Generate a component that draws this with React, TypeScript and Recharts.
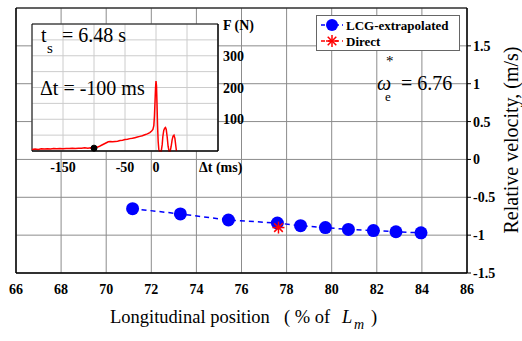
import {
  ComposedChart,
  LineChart,
  Line,
  Scatter,
  XAxis,
  YAxis,
  CartesianGrid,
  ReferenceArea,
  ReferenceDot,
} from "recharts";

// main plot: relative velocity vs longitudinal position
const positions = [71.17, 73.29, 75.42, 77.59, 78.62, 79.72, 80.74, 81.85, 82.85, 83.96];
const lcgVelocity = [-0.65, -0.72, -0.8, -0.84, -0.875, -0.9, -0.925, -0.94, -0.955, -0.97];
const directPosition = [77.64];
const directVelocity = [-0.9];
const xTicks = [66, 68, 70, 72, 74, 76, 78, 80, 82, 84, 86];
const yTicks = [-1.5, -1, -0.5, 0, 0.5, 1, 1.5];

// inset: force history around the slam
const forceTime = [
  -200, -195, -190, -185, -180, -175, -170, -165, -160, -155, -150, -145, -140, -135, -130, -125,
  -120, -115, -110, -105, -100, -96, -92, -88, -84, -80, -77, -74, -70, -66, -62, -58, -54, -50,
  -46, -42, -38, -34, -30, -26, -22, -18, -14, -10, -7, -5, -3.5, -2.5, -1.5, -0.7, 0, 0.8, 1.6,
  2.5, 3.5, 4.5, 5.5, 7, 8.5, 10, 11, 12.5, 14, 15.3, 16.5, 18, 19.5, 21, 23, 24.5, 26, 27.5, 29,
  30.5, 32, 33,
];
const forceValue = [
  5, 6, 5, 7, 6, 7, 6, 8, 7, 8, 7, 8, 8, 9, 8, 9, 9, 10, 9, 10, 9, 11, 14, 18, 22, 26, 29, 30, 29,
  30, 31, 33, 34, 36, 37, 39, 40, 42, 44, 46, 48, 51, 54, 58, 63, 68, 80, 110, 160, 200, 220, 205,
  150, 80, 30, 5, 0, 0, 0, 20, 45, 65, 72, 74, 68, 45, 15, 0, 0, 15, 35, 47, 50, 40, 15, 0,
];
const insetXTicks = [-200, -150, -100, -50, 0, 50, 100];
const insetXLabels = [-150, -50, 0];
const insetYTicks = [0, 50, 100, 150, 200, 250, 300, 350, 400];
const insetYLabels = [100, 200, 300];

const lcgData = positions.map((x, i) => ({ x, y: lcgVelocity[i] }));
const directData = directPosition.map((x, i) => ({ x, y: directVelocity[i] }));
const forceData = forceTime.map((t, i) => ({ t, f: forceValue[i] }));

const serif = "Liberation Serif, Times New Roman, DejaVu Serif, serif";
const serifStyle = { fontFamily: serif };

// bottom tick labels sit on a fixed baseline
const BottomTick = (props: any) => {
  const { x, payload, show, baseline } = props;
  if (show && !show.includes(payload.value)) return null;
  return (
    <text x={x} y={baseline} textAnchor="middle" fontSize={14} fontWeight={700} fill="#000" style={serifStyle}>
      {payload.value}
    </text>
  );
};

const RightTick = (props: any) => {
  const { x, y, payload, show } = props;
  if (show && !show.includes(payload.value)) return null;
  return (
    <text x={x} y={y + 5} textAnchor="start" fontSize={14} fontWeight={700} fill="#000" style={serifStyle}>
      {payload.value}
    </text>
  );
};

const Asterisk = (props: any) => {
  const { cx, cy } = props;
  const r = 6;
  const d = r * 0.72;
  return (
    <g stroke="#ff0000" strokeWidth={1.5}>
      <line x1={cx - r} y1={cy} x2={cx + r} y2={cy} />
      <line x1={cx} y1={cy - r} x2={cx} y2={cy + r} />
      <line x1={cx - d} y1={cy - d} x2={cx + d} y2={cy + d} />
      <line x1={cx - d} y1={cy + d} x2={cx + d} y2={cy - d} />
    </g>
  );
};

export default function App() {
  return (
    <div style={{ position: "relative", width: 522, height: 341, background: "#fff" }}>
      <style>{"body{margin:0}"}</style>
      <div style={{ position: "absolute", left: 0, top: 0 }}>
        <ComposedChart width={522} height={341} margin={{ top: 8, right: 15, bottom: 38, left: 16 }}>
          <CartesianGrid stroke="#8c8c8c" xAxisId="x" yAxisId="v" />
          <XAxis
            xAxisId="x"
            type="number"
            dataKey="x"
            domain={[66, 86]}
            ticks={xTicks}
            interval={0}
            height={30}
            tickSize={0}
            tick={<BottomTick baseline={294} />}
            axisLine={{ stroke: "#000" }}
          />
          <XAxis
            xAxisId="m"
            type="number"
            dataKey="x"
            domain={[66, 86]}
            ticks={xTicks}
            interval={0}
            mirror
            tickSize={4}
            tickFormatter={() => ""}
            axisLine={false}
            tickLine={{ stroke: "#000" }}
          />
          <YAxis
            yAxisId="v"
            orientation="right"
            type="number"
            domain={[-1.5, 2]}
            ticks={yTicks}
            interval={0}
            width={40}
            tickSize={4}
            tickMargin={2}
            tick={<RightTick />}
            axisLine={{ stroke: "#000" }}
            tickLine={{ stroke: "#000" }}
          />
          <YAxis
            yAxisId="l"
            orientation="left"
            type="number"
            domain={[-1.5, 2]}
            ticks={yTicks}
            interval={0}
            mirror
            tickSize={4}
            tickFormatter={() => ""}
            axisLine={{ stroke: "#000" }}
            tickLine={{ stroke: "#000" }}
          />
          <ReferenceArea xAxisId="x" yAxisId="v" x1={66} x2={86} y1={-1.5} y2={2} fill="none" stroke="#000" />
          <Line
            xAxisId="x"
            yAxisId="v"
            data={lcgData}
            dataKey="y"
            stroke="#0000ff"
            strokeWidth={1.5}
            strokeDasharray="5 4"
            dot={{ r: 6.5, fill: "#0000ff", stroke: "#0000ff", strokeWidth: 0 }}
            isAnimationActive={false}
          />
          <Scatter
            xAxisId="x"
            yAxisId="v"
            data={directData}
            dataKey="y"
            shape={Asterisk}
            isAnimationActive={false}
          />
        </ComposedChart>
      </div>

      <div style={{ position: "absolute", left: 0, top: 0 }}>
        <LineChart width={260} height={180} data={forceData} margin={{ top: 24, right: 7, bottom: 4, left: 32 }}>
          <CartesianGrid stroke="#cccccc" fill="#fff" fillOpacity={1} />
          <XAxis
            type="number"
            dataKey="t"
            domain={[-200, 100]}
            ticks={insetXTicks}
            interval={0}
            height={25}
            tickSize={0}
            tick={<BottomTick show={insetXLabels} baseline={172} />}
            axisLine={{ stroke: "#000" }}
          />
          <YAxis
            orientation="right"
            type="number"
            domain={[0, 400]}
            ticks={insetYTicks}
            interval={0}
            width={35}
            tickSize={0}
            tickMargin={5}
            tick={<RightTick show={insetYLabels} />}
            axisLine={{ stroke: "#000" }}
          />
          <YAxis
            yAxisId="m"
            orientation="right"
            type="number"
            domain={[0, 400]}
            ticks={insetYTicks}
            interval={0}
            mirror
            tickSize={4}
            tickFormatter={() => ""}
            axisLine={false}
            tickLine={{ stroke: "#000" }}
          />
          <ReferenceArea x1={-200} x2={100} y1={0} y2={400} fill="none" stroke="#000" />
          <Line
            type="linear"
            dataKey="f"
            stroke="#ff0000"
            strokeWidth={1.5}
            dot={false}
            isAnimationActive={false}
          />
          <ReferenceDot x={-100} y={9} r={3} fill="#000" stroke="#000" />
        </LineChart>
      </div>

      <svg
        width={522}
        height={341}
        style={{ position: "absolute", left: 0, top: 0, pointerEvents: "none", fontFamily: serif }}
      >
        {/* inset annotations */}
        <text fontSize={20}>
          <tspan x={41} y={42}>t</tspan>
          <tspan x={47} y={53} fontSize={15}>s</tspan>
          <tspan x={62} y={42}>= 6.48 s</tspan>
        </text>
        <text x={40} y={95} fontSize={20}>Δt = -100 ms</text>
        <text x={223} y={30} fontSize={14} fontWeight={700}>F (N)</text>
        <text x={199} y={172} fontSize={14} fontWeight={700}>Δt (ms)</text>

        {/* main annotations */}
        <text fontSize={20}>
          <tspan x={377} y={90} fontStyle="italic">ω</tspan>
          <tspan x={386} y={66} fontSize={15}>*</tspan>
          <tspan x={385} y={101} fontSize={13}>e</tspan>
          <tspan x={401} y={90}>= 6.76</tspan>
        </text>

        <text fontSize={18.5}>
          <tspan x={110} y={323}>Longitudinal position</tspan>
          <tspan x={284} y={323}>( % of</tspan>
          <tspan x={342} y={323} fontStyle="italic">L</tspan>
          <tspan x={354} y={329} fontSize={14} fontStyle="italic">m</tspan>
          <tspan x={371} y={323}>)</tspan>
        </text>

        <text x={518} y={140} fontSize={20} textAnchor="middle" transform="rotate(-90 518 140)">
          Relative velocity, (m/s)
        </text>

        {/* legend */}
        <rect x={316.5} y={15.5} width={143} height={35} fill="#fff" stroke="#666" />
        <line x1={321} y1={25} x2={343} y2={25} stroke="#0000ff" strokeWidth={1.5} strokeDasharray="4 3" />
        <circle cx={332} cy={25} r={6} fill="#0000ff" />
        <text x={346} y={30} fontSize={13} fontWeight={700}>LCG-extrapolated</text>
        <line x1={321} y1={41} x2={343} y2={41} stroke="#ff0000" strokeWidth={1.5} strokeDasharray="4 3" />
        <g stroke="#ff0000" strokeWidth={1.5}>
          <line x1={326} y1={41} x2={338} y2={41} />
          <line x1={332} y1={35} x2={332} y2={47} />
          <line x1={327.7} y1={36.7} x2={336.3} y2={45.3} />
          <line x1={327.7} y1={45.3} x2={336.3} y2={36.7} />
        </g>
        <text x={346} y={46} fontSize={13} fontWeight={700}>Direct</text>
      </svg>
    </div>
  );
}
